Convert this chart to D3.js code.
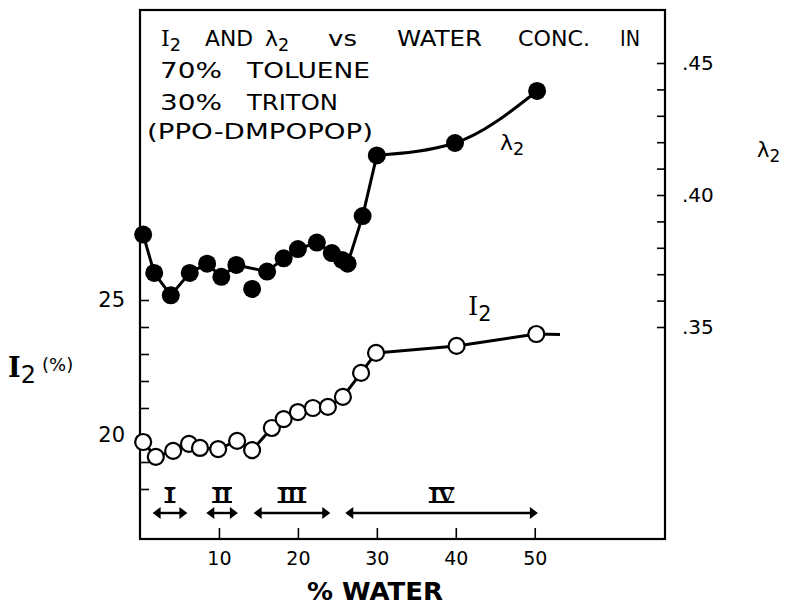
<!DOCTYPE html>
<html>
<head>
<meta charset="utf-8">
<script src="https://cdn.jsdelivr.net/npm/d3@7"></script>
<style>
    body { margin: 0; background: #fff; }
    svg { display: block; font-family: "DejaVu Sans", sans-serif; }
    .axis text { font-family: "DejaVu Sans", sans-serif; fill: #000; }
    .axis line { stroke: #000; stroke-width: 1.6px; }
    .axis path { display: none; }
</style>
</head>
<body>
<svg id="chart" width="787" height="616"></svg>
<script>
// lambda_2 (filled circles)
const lambdaWater = [0.4, 1.8, 3.9, 6.3, 8.5, 10.3, 12.2, 16.1, 18.2, 20.0, 22.4, 24.3, 25.6, 26.3, 28.2, 30.0, 39.9, 50.3];
const lambdaValues = [0.385, 0.3705, 0.362, 0.3705, 0.374, 0.369, 0.3735, 0.371, 0.376, 0.3795, 0.382, 0.378, 0.3754, 0.374, 0.392, 0.415, 0.4197, 0.4394];
// one point lying off the curve
const lambdaStrayWater = [14.2];
const lambdaStrayValues = [0.3644];

// I_2 (open circles)
const iWater = [0.4, 2.0, 4.2, 6.2, 7.6, 9.9, 12.3, 14.2, 16.7, 18.2, 20.0, 21.9, 23.8, 25.7, 28.0, 29.9, 40.1, 50.2];
const iValues = [19.74, 19.19, 19.41, 19.67, 19.52, 19.48, 19.78, 19.44, 20.26, 20.59, 20.85, 21.0, 21.04, 21.41, 22.3, 23.04, 23.3, 23.74];
// the drawn curve runs on a little past the last point
const iTailWater = [53.2];
const iTailValues = [23.72];

const xTicks = [10, 20, 30, 40, 50];
const iTicks = [18, 19, 20, 21, 22, 23, 24, 25];
const iTickLabels = ['', '', '20', '', '', '', '', '25'];
const lambdaTicks = [0.35, 0.36, 0.37, 0.38, 0.39, 0.40, 0.41, 0.42, 0.43, 0.44, 0.45];
const lambdaTickLabels = ['.35', '', '', '', '', '.40', '', '', '', '', '.45'];

const regionNames = ['I', 'II', 'III', 'IV'];
const regionStart = [1.6, 8.4, 14.4, 26.0];
const regionEnd = [6.0, 12.4, 24.1, 50.4];

const svg = d3.select('#chart');
svg.append('rect').attr('width', 787).attr('height', 616).attr('fill', '#fff');

const plotLeft = 140, plotRight = 665, plotTop = 10, plotBottom = 539;

const x = d3.scaleLinear().domain([0, 66.5]).range([plotLeft, plotRight]);
const yI = d3.scaleLinear().domain([20, 25]).range([435, 300]);
const yL = d3.scaleLinear().domain([0.35, 0.45]).range([327, 63]);

// frame
svg.append('rect')
    .attr('x', plotLeft).attr('y', plotTop)
    .attr('width', plotRight - plotLeft).attr('height', plotBottom - plotTop)
    .attr('fill', 'none').attr('stroke', '#000').attr('stroke-width', 2.2);

// axes
svg.append('g').attr('class', 'axis')
    .attr('transform', `translate(0,${plotBottom})`)
    .call(d3.axisBottom(x).tickValues(xTicks).tickSize(-11).tickPadding(13).tickFormat(d3.format('d')))
    .selectAll('text').style('font-size', '19px');

svg.append('g').attr('class', 'axis')
    .attr('transform', `translate(${plotLeft},0)`)
    .call(d3.axisLeft(yI).tickValues(iTicks).tickSize(-9).tickPadding(15).tickFormat((d, i) => iTickLabels[i]))
    .selectAll('text').style('font-size', '21px');

svg.append('g').attr('class', 'axis')
    .attr('transform', `translate(${plotRight},0)`)
    .call(d3.axisRight(yL).tickValues(lambdaTicks).tickSize(-8).tickPadding(17).tickFormat((d, i) => lambdaTickLabels[i]))
    .selectAll('text').style('font-size', '20px');

// lambda_2 curve
const lamPts = lambdaWater.map((w, i) => [w, lambdaValues[i]]);
const lamLine = d3.line().x(d => x(d[0])).y(d => yL(d[1]));
svg.append('path')
    .attr('d', lamLine(lamPts.slice(0, 16)))
    .attr('fill', 'none').attr('stroke', '#000').attr('stroke-width', 3).attr('stroke-linejoin', 'round');
svg.append('path')
    .attr('d', lamLine.curve(d3.curveMonotoneX)(lamPts.slice(15)))
    .attr('fill', 'none').attr('stroke', '#000').attr('stroke-width', 3);

svg.append('g').selectAll('circle')
    .data(lamPts.concat(lambdaStrayWater.map((w, i) => [w, lambdaStrayValues[i]])))
    .join('circle')
    .attr('cx', d => x(d[0])).attr('cy', d => yL(d[1])).attr('r', 9)
    .attr('fill', '#000');

// I_2 curve
const iPts = iWater.map((w, i) => [w, iValues[i]]);
const iLine = d3.line().x(d => x(d[0])).y(d => yI(d[1]));
svg.append('path')
    .attr('d', iLine(iPts.concat(iTailWater.map((w, i) => [w, iTailValues[i]]))))
    .attr('fill', 'none').attr('stroke', '#000').attr('stroke-width', 3).attr('stroke-linejoin', 'round');

svg.append('g').selectAll('circle')
    .data(iPts)
    .join('circle')
    .attr('cx', d => x(d[0])).attr('cy', d => yI(d[1])).attr('r', 8)
    .attr('fill', '#fff').attr('stroke', '#000').attr('stroke-width', 2.2);

// region arrows
const arrowY = 513;
const regions = svg.append('g');
regionNames.forEach((name, i) => {
    const x1 = x(regionStart[i]), x2 = x(regionEnd[i]);
    regions.append('line')
        .attr('x1', x1 + 4).attr('x2', x2 - 4).attr('y1', arrowY).attr('y2', arrowY)
        .attr('stroke', '#000').attr('stroke-width', 2.4);
    regions.append('path')
        .attr('d', `M${x1},${arrowY} L${x1 + 8},${arrowY - 6} L${x1 + 8},${arrowY + 6} Z`)
        .attr('fill', '#000');
    regions.append('path')
        .attr('d', `M${x2},${arrowY} L${x2 - 8},${arrowY - 6} L${x2 - 8},${arrowY + 6} Z`)
        .attr('fill', '#000');
    const cx = (x1 + x2) / 2;
    const t = regions.append('text')
        .attr('x', cx).attr('y', 503)
        .attr('text-anchor', 'middle')
        .style('font-family', '"DejaVu Serif", serif').style('font-weight', 'bold').style('font-size', '19px')
        .text(name);
    const w = t.node().getComputedTextLength();
    regions.append('line').attr('x1', cx - w / 2 - 1).attr('x2', cx + w / 2 + 1)
        .attr('y1', 488).attr('y2', 488).attr('stroke', '#000').attr('stroke-width', 2);
    regions.append('line').attr('x1', cx - w / 2 - 1).attr('x2', cx + w / 2 + 1)
        .attr('y1', 502).attr('y2', 502).attr('stroke', '#000').attr('stroke-width', 2);
});

// title block
const title = svg.append('g').style('font-size', '21px');
function word(txt, x0, w, y) {
    title.append('text').attr('x', x0).attr('y', y)
        .attr('textLength', w).attr('lengthAdjust', 'spacingAndGlyphs')
        .text(txt);
}
function sym(g, ch, x0, y, size, serif) {
    const t = g.append('text').attr('x', x0).attr('y', y);
    t.append('tspan')
        .style('font-family', serif ? '"DejaVu Serif", serif' : null)
        .style('font-size', size + 'px')
        .text(ch);
    t.append('tspan').attr('dy', size * 0.22).style('font-size', (size * 0.8) + 'px').text('2');
    return t;
}
sym(title, 'I', 161, 46, 22, true);
word('AND', 205, 48, 46);
sym(title, 'λ', 265, 46, 22, false);
word('vs', 328, 29, 46);
word('WATER', 397, 85, 46);
word('CONC.', 518, 72, 46);
word('IN', 620, 20, 46);
word('70%', 160, 62, 78);
word('TOLUENE', 247, 123, 78);
word('30%', 160, 62, 110);
word('TRITON', 247, 91, 110);
word('(PPO-DMPOPOP)', 147, 226, 139);

// curve labels
sym(svg, 'λ', 500, 150, 22, false);
sym(svg, 'I', 468, 315, 26, true);

// axis titles
svg.append('text').attr('x', 307).attr('y', 600)
    .attr('textLength', 136).attr('lengthAdjust', 'spacingAndGlyphs')
    .style('font-size', '24px').style('font-weight', 'bold')
    .text('% WATER');

const yTitle = svg.append('text').attr('x', 8).attr('y', 377);
yTitle.append('tspan').style('font-family', '"DejaVu Serif", serif').style('font-weight', 'bold').style('font-size', '27px').text('I');
yTitle.append('tspan').attr('dy', 6).style('font-size', '24px').text('2');
svg.append('text').attr('x', 42).attr('y', 371).style('font-size', '18px').text('(%)');

sym(svg, 'λ', 757, 157, 21, false);
</script>
</body>
</html>
